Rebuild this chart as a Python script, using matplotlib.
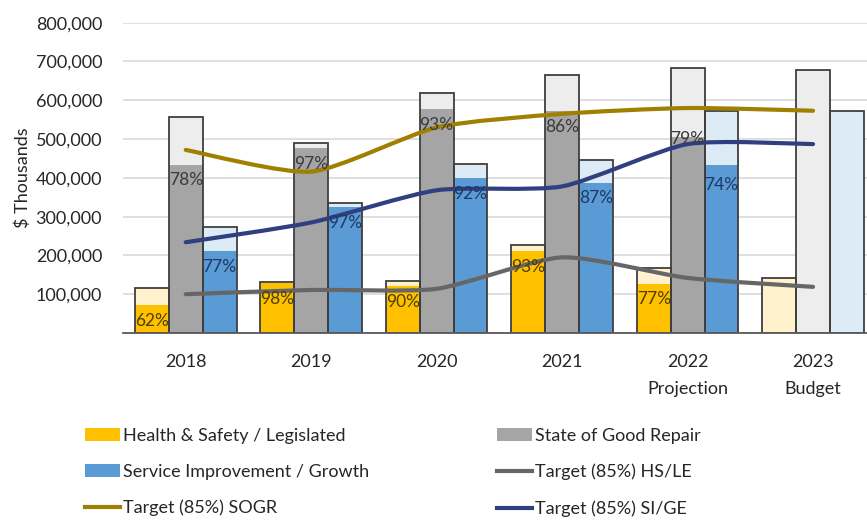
import matplotlib
matplotlib.use("Agg")
import matplotlib.pyplot as plt
import numpy as np
from matplotlib.patches import Patch
from matplotlib.lines import Line2D
from matplotlib.path import Path
from matplotlib.patches import PathPatch
from matplotlib.ticker import FuncFormatter, MultipleLocator

plt.rcParams['font.family'] = ['Lato', 'DejaVu Sans']

# ---------------- data ----------------
years = ['2018', '2019', '2020', '2021', '2022\nProjection', '2023\nBudget']

hs_budget = [116000, 131000, 134000, 227000, 168000, 142000]
hs_actual = [72000, 128000, 120000, 211000, 126000, np.nan]
hs_pct = [62, 98, 90, 93, 77, None]

sogr_budget = [557000, 491000, 620000, 665000, 684000, 678000]
sogr_actual = [434000, 476000, 577000, 572000, 505000, np.nan]
sogr_pct = [78, 97, 93, 86, 79, None]

si_budget = [274000, 336000, 435000, 446000, 572000, 572000]
si_actual = [211000, 326000, 400000, 388000, 432000, np.nan]
si_pct = [77, 97, 92, 87, 74, None]

hs_target = [100000, 111000, 114000, 195000, 142000, 119000]
sogr_target = [472000, 416000, 530000, 565000, 580000, 573000]
si_target = [234000, 285000, 368000, 378000, 487000, 487000]

# ---------------- styling ----------------
W, H = 867, 523
fig = plt.figure(figsize=(W / 100, H / 100), dpi=100)
ax_left, ax_right = 123, 872
ax_top, ax_bottom = 22.7, 333
ax = fig.add_axes([ax_left / W, 1 - ax_bottom / H,
                   (ax_right - ax_left) / W, (ax_bottom - ax_top) / H])

x = np.arange(len(years))
w = 0.27
edge = '#3f3f3f'
series = [
    (hs_budget, hs_actual, hs_pct, -w, '#FFF2CC', '#FFC000', '#4d3f00'),
    (sogr_budget, sogr_actual, sogr_pct, 0.0, '#EDEDED', '#A5A5A5', '#3a3a3a'),
    (si_budget, si_actual, si_pct, w, '#DDEBF7', '#5B9BD5', '#1F3864'),
]

for budget, actual, pct, off, light, dark, tcol in series:
    ax.bar(x + off, budget, w, color=light, edgecolor='none', zorder=2)
    ax.bar(x + off, actual, w, color=dark, edgecolor='none', zorder=3)
    ax.bar(x + off, budget, w, fill=False, edgecolor=edge, linewidth=1.3, zorder=4)
    for xi, b, p in zip(x, budget, pct):
        if p is None:
            continue
        ax.annotate(f'{p}%', xy=(xi + off, b * p / 100), xytext=(0, -16),
                    textcoords='offset pixels', ha='center', va='center',
                    fontsize=12.5, color=tcol, zorder=8)


def smooth_path(xs, ys, k=9.0):
    pts = np.column_stack([xs, ys]).astype(float)
    n = len(pts)
    verts = [pts[0]]
    codes = [Path.MOVETO]
    for i in range(n - 1):
        p0 = pts[i - 1] if i > 0 else pts[i]
        p1 = pts[i]
        p2 = pts[i + 1]
        p3 = pts[i + 2] if i + 2 < n else pts[i + 1]
        c1 = p1 + (p2 - p0) / k
        c2 = p2 - (p3 - p1) / k
        verts += [c1, c2, p2]
        codes += [Path.CURVE4] * 3
    return Path(verts, codes)


line_cols = {'hs': '#666666', 'sogr': '#A08000', 'si': '#2F3F80'}
for key, vals in [('hs', hs_target), ('sogr', sogr_target), ('si', si_target)]:
    pp = PathPatch(smooth_path(x, vals), facecolor='none', edgecolor=line_cols[key],
                   linewidth=3, zorder=6, capstyle='round', joinstyle='round')
    ax.add_patch(pp)

ax.set_xlim(-0.5, 5.47)
ax.set_ylim(0, 800000)
ax.yaxis.set_major_locator(MultipleLocator(100000))
ax.yaxis.set_major_formatter(FuncFormatter(lambda v, p: '' if v == 0 else f'{v:,.0f}'))
ax.grid(axis='y', color='#D9D9D9', linewidth=1.2, zorder=0)
ax.set_axisbelow(True)
for s in ['top', 'right', 'left']:
    ax.spines[s].set_visible(False)
ax.spines['bottom'].set_color('#595959')
ax.spines['bottom'].set_linewidth(1.3)
ax.spines['bottom'].set_zorder(5)
ax.set_xticks(x)
ax.set_xticklabels(years, linespacing=1.85)
ax.tick_params(axis='both', length=0, labelsize=13, colors='#262626')
ax.tick_params(axis='y', pad=15)
ax.tick_params(axis='x', pad=15)

fig.text(23 / W, 1 - 178 / H, '$ Thousands', rotation=90, ha='center', va='center',
         fontsize=13, color='#262626')

# ---------------- legend ----------------
h_hs = Patch(facecolor='#FFC000', edgecolor='none')
h_sogr = Patch(facecolor='#A5A5A5', edgecolor='none')
h_si = Patch(facecolor='#5B9BD5', edgecolor='none')
l_hs = Line2D([], [], color=line_cols['hs'], linewidth=3)
l_sogr = Line2D([], [], color=line_cols['sogr'], linewidth=3)
l_si = Line2D([], [], color=line_cols['si'], linewidth=3)

common = dict(loc='upper left', frameon=False, fontsize=13, borderpad=0,
              borderaxespad=0, handlelength=1.95, handleheight=0.7,
              handletextpad=0.15, labelspacing=1.1, labelcolor='#262626')
leg1 = fig.legend([h_hs, h_si, l_sogr],
                  ['Health & Safety / Legislated', 'Service Improvement / Growth',
                   'Target (85%) SOGR'],
                  bbox_to_anchor=(85 / W, 1 - 428 / H), **common)
leg2 = fig.legend([h_sogr, l_hs, l_si],
                  ['State of Good Repair', 'Target (85%) HS/LE', 'Target (85%) SI/GE'],
                  bbox_to_anchor=(497 / W, 1 - 428 / H), **common)

fig.savefig('out.png', dpi=100)
